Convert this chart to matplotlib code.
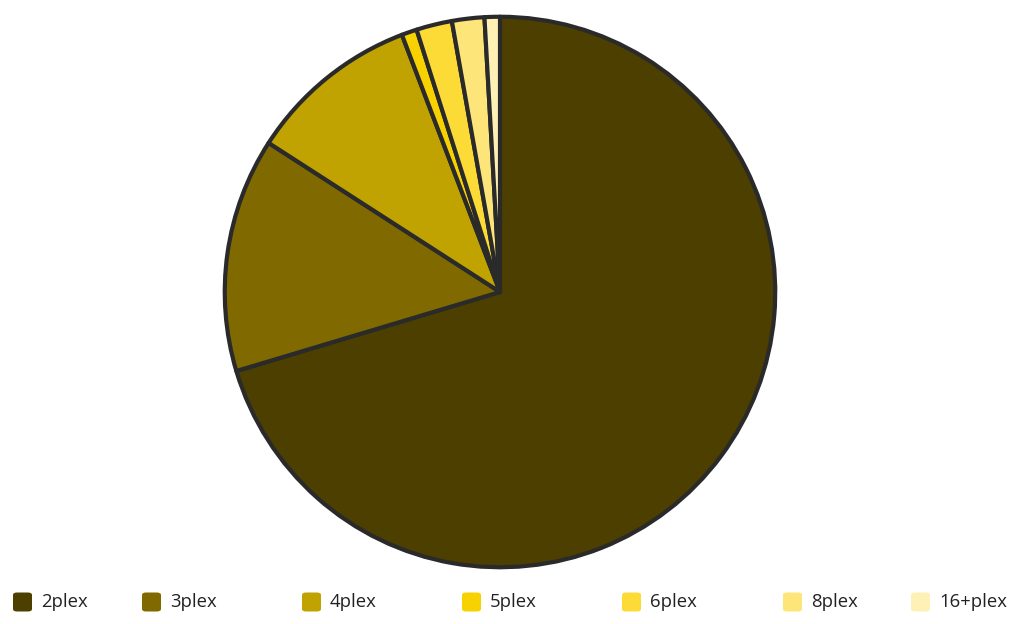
import matplotlib
matplotlib.use("Agg")
import matplotlib.pyplot as plt
from matplotlib.patches import FancyBboxPatch

labels = ["2plex", "3plex", "4plex", "5plex", "6plex", "8plex", "16+plex"]
values = [70.4, 13.75, 10.1, 0.9, 2.1, 1.9, 0.9]
colors = ["#4d3f00", "#806a00", "#c0a300", "#f7d200", "#fddb36", "#fee57a", "#fff0b5"]
legend_x = [13, 142, 302, 462, 622, 783, 911]

W, H = 1024, 624
fig = plt.figure(figsize=(W / 100, H / 100), dpi=100)
fig.patch.set_facecolor("white")

cx, cy, r = 500, 292, 278
ax = fig.add_axes([(cx - r) / W, (H - cy - r) / H, 2 * r / W, 2 * r / H])
ax.pie(values, colors=colors, startangle=90, counterclock=False, radius=1,
       wedgeprops=dict(edgecolor="#2a2a2a", linewidth=3.0, joinstyle="round"))
ax.set_xlim(-1.01, 1.01)
ax.set_ylim(-1.01, 1.01)
ax.set_aspect("equal")
ax.axis("off")

sq = 19
ly = 602
for lab, col, x in zip(labels, colors, legend_x):
    p = FancyBboxPatch((x / W, (H - ly - sq / 2) / H), sq / W, sq / H,
                       boxstyle="round,pad=0,rounding_size=0.004",
                       transform=fig.transFigure, facecolor=col, edgecolor="none")
    fig.patches.append(p)
    fig.text((x + sq + 9) / W, (H - ly) / H, lab, ha="left", va="center",
             fontsize=13.3, color="#222222", family=["Open Sans", "DejaVu Sans"])

fig.savefig("out.png", dpi=100, facecolor="white")
